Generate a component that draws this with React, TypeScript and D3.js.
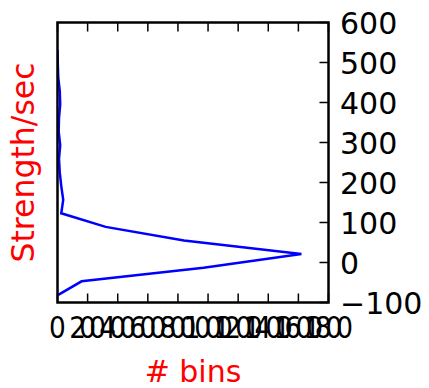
import React from 'react';
import * as d3 from 'd3';

// histogram of strength values: bin centre (y) and count (x)
const strengthBins = [-81, -47, -13, 21, 55, 89, 123, 157, 191, 225, 259, 293, 327, 361, 395, 429, 463, 497, 531];
const binCounts = [5, 160, 970, 1620, 840, 320, 25, 38, 25, 15, 10, 18, 8, 10, 18, 15, 5, 2, 0];
const xTicks = [0, 200, 400, 600, 800, 1000, 1200, 1400, 1600, 1800];
const yTicks = [-100, 0, 100, 200, 300, 400, 500, 600];

const App = () => {
  const width = 429;
  const height = 388;
  const left = 57.5;
  const right = 328.5;
  const top = 22.5;
  const bottom = 302.5;
  const tickLen = 9;

  const x = d3.scaleLinear().domain([0, 1800]).range([left, right]);
  const y = d3.scaleLinear().domain([-100, 600]).range([bottom, top]);

  const points: [number, number][] = binCounts.map((c, i) => [c, strengthBins[i]]);
  const linePath = d3
    .line<[number, number]>()
    .x((d) => x(d[0]))
    .y((d) => y(d[1]))(points) || undefined;

  const font = 'DejaVu Sans, sans-serif';
  const fmt = (v: number) => (v < 0 ? '\u2212' + Math.abs(v) : String(v));

  return (
    <svg
      width={width}
      height={height}
      style={{ position: 'absolute', left: 0, top: 0, background: '#fff' }}
      fontFamily={font}
    >
      <defs>
        <clipPath id="plot">
          <rect x={left} y={top} width={right - left} height={bottom - top} />
        </clipPath>
      </defs>

      <path d={linePath} fill="none" stroke="#0000ff" strokeWidth={2.5} clipPath="url(#plot)" />

      {/* x ticks top and bottom, pointing in */}
      {xTicks.map((t) => {
        const label = String(t);
        return (
          <g key={'x' + t}>
            <line x1={x(t)} x2={x(t)} y1={bottom} y2={bottom - tickLen} stroke="#000" strokeWidth={1.5} />
            <line x1={x(t)} x2={x(t)} y1={top} y2={top + tickLen} stroke="#000" strokeWidth={1.5} />
            {/* the reference squeezes these labels so they run into each other */}
            <g transform={`translate(${x(t)}, 338) scale(0.88, 1)`}>
              <text
                x={0}
                y={0}
                textAnchor="middle"
                fontSize={30}
                fill="#000"
                textLength={label.length * 14}
                lengthAdjust="spacing"
              >
                {label}
              </text>
            </g>
          </g>
        );
      })}

      {/* y ticks on the right only */}
      {yTicks.map((t) => (
        <g key={'y' + t}>
          <line x1={right} x2={right - tickLen} y1={y(t)} y2={y(t)} stroke="#000" strokeWidth={1.5} />
          <text x={340} y={y(t) + 11} textAnchor="start" fontSize={30} fill="#000">
            {fmt(t)}
          </text>
        </g>
      ))}

      <rect
        x={left}
        y={top}
        width={right - left}
        height={bottom - top}
        fill="none"
        stroke="#000"
        strokeWidth={2.5}
      />

      <text
        transform={`translate(34, ${(top + bottom) / 2}) rotate(-90)`}
        textAnchor="middle"
        fontSize={31.5}
        fill="#ff0000"
      >
        Strength/sec
      </text>
      <text x={(left + right) / 2} y={382} textAnchor="middle" fontSize={30} fill="#ff0000">
        # bins
      </text>
    </svg>
  );
};

export default App;
